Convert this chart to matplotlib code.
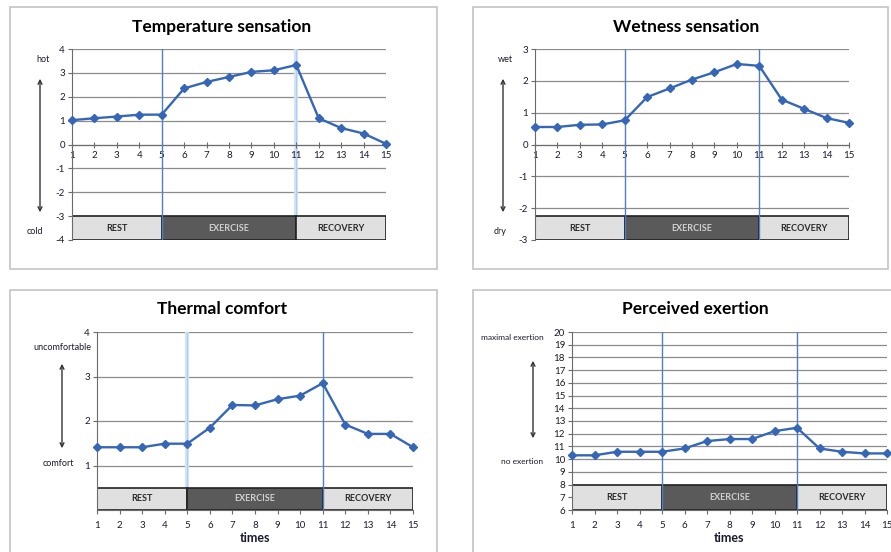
import numpy as np
import matplotlib
matplotlib.use("Agg")
import matplotlib.pyplot as plt
from matplotlib.patches import Rectangle

plt.rcParams['font.family'] = ['Lato', 'DejaVu Sans']
plt.rcParams['axes.unicode_minus'] = False

# data
times = list(range(1, 16))
temperature = [1.02, 1.10, 1.17, 1.25, 1.25, 2.35, 2.62, 2.83, 3.04, 3.11, 3.33, 1.10, 0.69, 0.46, 0.03]
wetness = [0.55, 0.55, 0.62, 0.63, 0.76, 1.49, 1.76, 2.04, 2.27, 2.53, 2.47, 1.41, 1.12, 0.83, 0.68]
comfort = [1.41, 1.41, 1.41, 1.49, 1.49, 1.85, 2.36, 2.35, 2.49, 2.57, 2.85, 1.92, 1.71, 1.71, 1.41]
exertion = [10.3, 10.3, 10.58, 10.58, 10.58, 10.84, 11.42, 11.58, 11.58, 12.2, 12.47, 10.84, 10.58, 10.45, 10.45]

phases = ['REST', 'EXERCISE', 'RECOVERY']
phase_bounds = [(1, 5), (5, 11), (11, 15)]

W, H = 891, 552
fig = plt.figure(figsize=(W / 100, H / 100), dpi=100)

LINE = '#3566b8'
GRID = '#8c8c8c'
TXT = '#1a1a2e'


def fx(x):
    return x / W


def fy(y):
    return 1 - y / H


def frame(x0, y0, x1, y1):
    fig.patches.append(Rectangle((fx(x0), fy(y1)), fx(x1) - fx(x0), fy(y0) - fy(y1),
                                 transform=fig.transFigure, fill=False,
                                 edgecolor='#c4c4c4', lw=1.2))


def panel(box, ylim, yticks, values, band_top, title, title_x, title_y,
          vlines, axis_at_zero, xlabel=False):
    x0, y0, x1, y1 = box
    ax = fig.add_axes([fx(x0), fy(y1), fx(x1) - fx(x0), fy(y0) - fy(y1)])
    ax.set_xlim(1, 15)
    ax.set_ylim(*ylim)
    for s in ['top', 'right']:
        ax.spines[s].set_visible(False)
    ax.spines['left'].set_color('#6b6b6b')
    ax.spines['bottom'].set_color('#6b6b6b')
    if axis_at_zero:
        ax.spines['bottom'].set_position(('data', 0))
        ax.tick_params(axis='x', direction='inout', length=4, pad=3)
    else:
        ax.tick_params(axis='x', direction='out', length=3, pad=5)
    ax.set_yticks(yticks)
    ax.set_xticks(times)
    ax.tick_params(axis='y', direction='out', length=3, pad=2)
    ax.tick_params(labelsize=7, colors=TXT)
    ax.tick_params(axis='both', color='#6b6b6b')
    for y in range(int(ylim[0]), int(ylim[1]) + 1):
        ax.axhline(y, color=GRID, lw=0.9, zorder=0)
    # phase band
    for (a, b), name in zip(phase_bounds, phases):
        dark = name == 'EXERCISE'
        ax.add_patch(Rectangle((a, ylim[0]), b - a, band_top - ylim[0],
                               facecolor='#5a5a5a' if dark else '#e0e0e0',
                               edgecolor='#222222', lw=1.2, zorder=2))
        ax.text((a + b) / 2, (ylim[0] + band_top) / 2, name, ha='center', va='center',
                fontsize=6.5, fontweight='bold', color='#d0d0d0' if dark else '#2a2a2a', zorder=3)
    for xv, light in vlines:
        if light:
            ax.axvline(xv, color='#d3e3f6', lw=3, zorder=1)
            ax.axvline(xv, color='#b3cdec', lw=0.8, zorder=1)
        else:
            ax.axvline(xv, color='#4f7fc4', lw=1, zorder=4)
    ax.plot(times, values, color=LINE, lw=1.7, marker='D', ms=4, zorder=5, clip_on=False)
    fig.text(fx(title_x), fy(title_y), title, ha='center', va='center',
             fontsize=12.5, fontweight='bold', color='black')
    if xlabel:
        ax.set_xlabel('times', fontsize=9, fontweight='bold', color=TXT, labelpad=1)
    return ax


def side(label_top, top_xy, label_bot, bot_xy, ax_x, ay0, ay1, fs=6.5):
    fig.text(fx(top_xy[0]), fy(top_xy[1]), label_top, ha='center', va='center', fontsize=fs, color=TXT)
    fig.text(fx(bot_xy[0]), fy(bot_xy[1]), label_bot, ha='center', va='center', fontsize=fs, color=TXT)
    fig.add_artist(matplotlib.patches.FancyArrowPatch(
        (fx(ax_x), fy(ay0)), (fx(ax_x), fy(ay1)), transform=fig.transFigure,
        arrowstyle='<->', mutation_scale=7, lw=1, color='#333333'))


frame(10, 7, 437, 269)
frame(473, 7, 888, 269)
frame(10, 290, 437, 560)
frame(473, 290, 895, 560)

panel((72, 49, 386, 240), (-4, 4), range(-4, 5), temperature, -3,
      'Temperature sensation', 222, 27, [(5, False), (11, True)], True)
side('hot', (43, 60), 'cold', (35, 232), 40, 76, 215)

panel((535, 49, 849, 240), (-3, 3), range(-3, 4), wetness, -2.25,
      'Wetness sensation', 686, 27, [(5, False), (11, False)], True)
side('wet', (505, 60), 'dry', (500, 232), 503, 76, 215)

panel((97, 332, 413, 510), (0, 4), [1, 2, 3, 4], comfort, 0.5,
      'Thermal comfort', 222, 309, [(5, True), (11, False)], False, xlabel=True)
side('uncomfortable', (62, 347), 'comfort', (58, 464), 62, 361, 451)

panel((572, 332, 887, 510), (6, 20), range(6, 21), exertion, 8,
      'Perceived exertion', 695, 309, [(5, False), (11, False)], False, xlabel=True)
side('maximal exertion', (512, 337), 'no exertion', (522, 461), 533, 358, 441, fs=6)

fig.savefig('out.png', dpi=100)
